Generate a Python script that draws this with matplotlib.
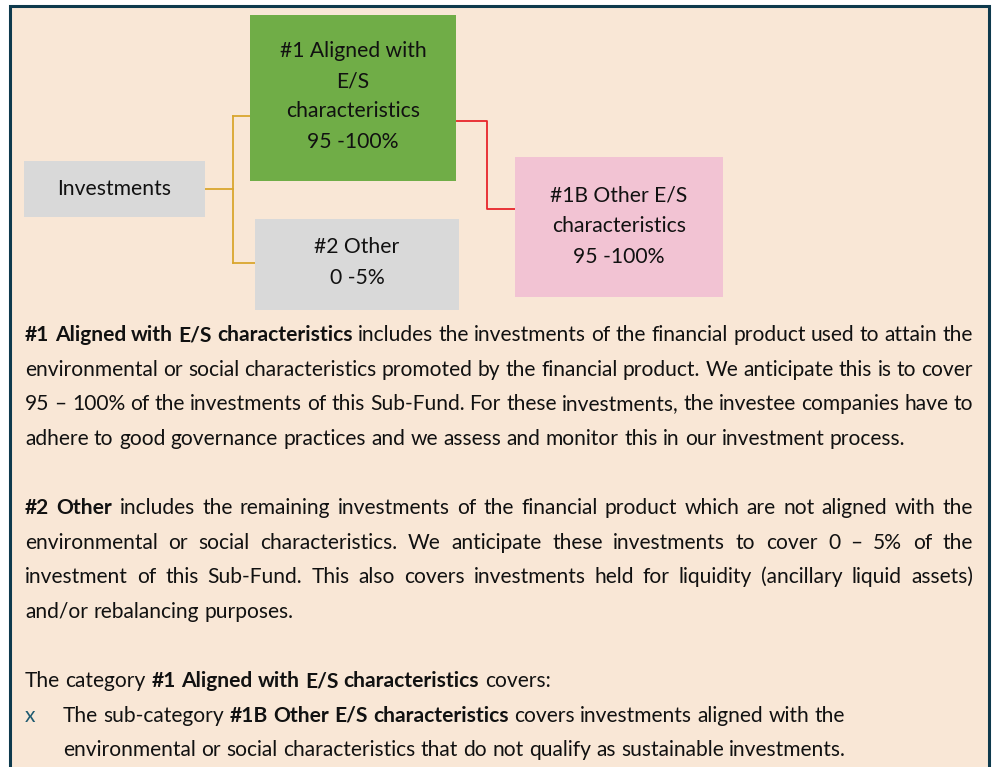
import matplotlib
matplotlib.use("Agg")
import matplotlib.pyplot as plt
from matplotlib.patches import Rectangle
from matplotlib.font_manager import FontProperties

# ---------------- data ----------------
node_investments = ["Investments"]
node_aligned = ["#1 Aligned with", "E/S", "characteristics", "95 -100%"]
node_other = ["#2 Other", "0 -5%"]
node_other_es = ["#1B Other E/S", "characteristics", "95 -100%"]

# paragraphs: list of lines; each line = (list of (text, bold) runs, justified)
para1 = [
    ([("#1 Aligned with E/S characteristics", True),
      ("includes the investments of the financial product used to attain the", False)], True),
    ([("environmental or social characteristics promoted by the financial product. We anticipate this is to cover", False)], True),
    ([("95 – 100% of the investments of this Sub-Fund. For these investments, the investee companies have to", False)], True),
    ([("adhere to good governance practices and we assess and monitor this in our investment process.", False)], False),
]
para2 = [
    ([("#2 Other", True),
      ("includes the remaining investments of the financial product which are not aligned with the", False)], True),
    ([("environmental or social characteristics. We anticipate these investments to cover 0 – 5% of the", False)], True),
    ([("investment of this Sub-Fund. This also covers investments held for liquidity (ancillary liquid assets)", False)], True),
    ([("and/or rebalancing purposes.", False)], False),
]
para3 = [
    ([("The category", False), ("#1 Aligned with E/S characteristics", True), ("covers:", False)], False),
]
bullet_lines = [
    ([("The sub-category", False), ("#1B Other E/S characteristics", True),
      ("covers investments aligned with the", False)], False),
    ([("environmental or social characteristics that do not qualify as sustainable investments.", False)], False),
]

# ---------------- style ----------------
BG = "#F9E7D6"
BORDER = "#0E3A4D"
GREEN = "#70AD47"
GREY = "#D9D9D9"
PINK = "#F2C3D3"
GOLD = "#D9A62E"
RED = "#E8252B"
TXT = "#111111"
FONT = "Lato"
FS_BODY = 15.1
FS_BOX = 15.2
DPI = 100

fig = plt.figure(figsize=(9.93, 7.67), dpi=DPI)
ax = fig.add_axes([0, 0, 1, 1])
ax.set_xlim(0, 993)
ax.set_ylim(767, 0)
ax.axis("off")

# outer panel
ax.add_patch(Rectangle((10, 6), 979, 800, facecolor=BG, edgecolor=BORDER, lw=2.2, zorder=0))

fig.canvas.draw()
renderer = fig.canvas.get_renderer()

def fp(size, bold):
    return FontProperties(family=FONT, size=size, weight="bold" if bold else "normal")

def wmeasure(word, size, bold):
    w, h, d = renderer.get_text_width_height_descent(word, fp(size, bold), ismath=False)
    return w

def put(x, base, word, size, bold, ha="left", color=TXT):
    ax.text(x, round(base), word, fontproperties=fp(size, bold), color=color,
            ha=ha, va="baseline", zorder=3)

def box(x0, y0, x1, y1, color, lines, baselines):
    ax.add_patch(Rectangle((x0, y0), x1 - x0, y1 - y0, facecolor=color, edgecolor="none", zorder=2))
    cx = (x0 + x1) / 2
    for s, b in zip(lines, baselines):
        put(cx, b, s, FS_BOX, False, ha="center")

box(24, 161, 205, 217, GREY, node_investments, [195])
box(250, 15, 456, 181, GREEN, node_aligned, [57, 87, 117, 148])
box(255, 219, 459, 310, GREY, node_other, [253, 284])
box(515, 157, 723, 297, PINK, node_other_es, [201, 232, 263])

# connectors
ax.plot([205, 233], [189, 189], color=GOLD, lw=1.3, zorder=1)
ax.plot([233, 233], [116, 263], color=GOLD, lw=1.3, zorder=1)
ax.plot([233, 250], [116, 116], color=GOLD, lw=1.3, zorder=1)
ax.plot([233, 255], [263, 263], color=GOLD, lw=1.3, zorder=1)
ax.plot([456, 487, 487, 515], [121, 121, 209, 209], color=RED, lw=1.3, zorder=1)

# ---------------- text layout ----------------
def wwidth(word, bold):
    return wmeasure(word, FS_BODY, bold)

space_w = wwidth("a a", False) - 2 * wwidth("a", False)

def draw_line(runs, justified, x0, x1, base):
    words = []
    for text, bold in runs:
        for w in text.split(" "):
            words.append((w, bold))
    widths = [wwidth(w, b) for w, b in words]
    if justified and len(words) > 1:
        gap = (x1 - x0 - sum(widths)) / (len(words) - 1)
        gap = max(gap, 0.6 * space_w)
    else:
        gap = space_w
    x = x0
    for (w, b), wd in zip(words, widths):
        put(x, base, w, FS_BODY, b)
        x += wd + gap

LEFT, RIGHT = 25, 973
bases1 = [341, 375.6, 410.2, 444.8]
bases2 = [514, 548.6, 583.2, 617.8]
for (runs, j), b in zip(para1, bases1):
    draw_line(runs, j, LEFT, RIGHT, b)
for (runs, j), b in zip(para2, bases2):
    draw_line(runs, j, LEFT, RIGHT, b)
draw_line(para3[0][0], False, LEFT, RIGHT, 687)
put(25, 721.6, "x", FS_BODY, False, color="#1F5A70")
for (runs, j), b in zip(bullet_lines, [721.6, 756.2]):
    draw_line(runs, j, 63, RIGHT, b)

fig.savefig("out.png", dpi=DPI, facecolor="white")
